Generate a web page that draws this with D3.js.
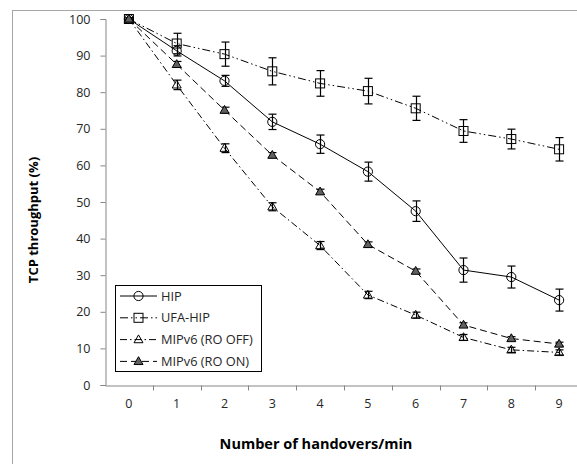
<!DOCTYPE html>
<html>
<head>
<meta charset="utf-8">
<script src="https://cdn.jsdelivr.net/npm/d3@7"></script>
<style>
  html, body { margin: 0; padding: 0; background: #fff; }
  svg { display: block; font-family: "Open Sans", "DejaVu Sans", sans-serif; }
</style>
</head>
<body>
<svg id="chart" width="577" height="464"></svg>
<script>
// Handovers per minute (categories on the x axis)
const handovers = ["0", "1", "2", "3", "4", "5", "6", "7", "8", "9"];
const yTicks = [0, 10, 20, 30, 40, 50, 60, 70, 80, 90, 100];

// TCP throughput (%) and error bar half-widths per protocol
const hipValues    = [100, 91.3, 83.1, 71.9, 65.8, 58.3, 47.5, 31.4, 29.5, 23.2];
const hipErrors    = [0.3, 1.4, 1.5, 2.1, 2.5, 2.6, 2.8, 3.3, 3.0, 3.0];
const ufaValues    = [100, 93.3, 90.4, 85.7, 82.4, 80.3, 75.6, 69.4, 67.2, 64.4];
const ufaErrors    = [0.3, 2.8, 3.3, 3.7, 3.5, 3.5, 3.3, 3.1, 2.7, 3.2];
const roOffValues  = [100, 82.0, 64.7, 48.7, 38.1, 24.6, 19.1, 13.0, 9.6, 8.9];
const roOffErrors  = [0.3, 1.3, 1.2, 1.1, 1.1, 1.0, 0.8, 0.8, 0.7, 0.7];
const roOnValues   = [100, 87.6, 75.1, 62.8, 52.8, 38.4, 31.1, 16.4, 12.7, 11.2];
const roOnErrors   = [0.3, 0.8, 0.8, 0.7, 0.7, 0.7, 0.6, 0.6, 0.5, 0.5];

const seriesNames = ["HIP", "UFA-HIP", "MIPv6 (RO OFF)", "MIPv6 (RO ON)"];

const series = [
  { name: seriesNames[0], values: hipValues,   errors: hipErrors,   marker: "circle",   dash: null,                 fill: "none" },
  { name: seriesNames[1], values: ufaValues,   errors: ufaErrors,   marker: "square",   dash: "8,3,1.5,3,1.5,3",    fill: "none" },
  { name: seriesNames[2], values: roOffValues, errors: roOffErrors, marker: "triangle", dash: "7,3,1.5,3",          fill: "none" },
  { name: seriesNames[3], values: roOnValues,  errors: roOnErrors,  marker: "triangle", dash: "7,4",                fill: "#606060" }
];

const svg = d3.select("#chart");

// outer chart frame
svg.append("rect")
  .attr("x", 12.5).attr("y", 10.5)
  .attr("width", 620).attr("height", 470)
  .attr("fill", "#fff")
  .attr("stroke", "#a6a6a6")
  .attr("stroke-width", 1);

const plot = { left: 105, right: 583, top: 19, bottom: 385 };

const x = d3.scaleBand()
  .domain(handovers)
  .range([plot.left, plot.right])
  .paddingInner(0).paddingOuter(0);
const cx = d => x(d) + x.bandwidth() / 2;

const y = d3.scaleLinear()
  .domain([0, 100])
  .range([plot.bottom, plot.top]);

const axisColor = "#868686";
const labelColor = "#262626";

// y axis
const yAxis = svg.append("g")
  .attr("transform", `translate(${plot.left + 0.5},0)`)
  .call(d3.axisLeft(y).tickValues(yTicks).tickSize(5).tickPadding(10).tickFormat(d3.format("d")));
yAxis.select(".domain").attr("stroke", axisColor);
yAxis.selectAll(".tick line").attr("stroke", axisColor);
yAxis.selectAll(".tick text")
  .attr("fill", labelColor)
  .style("font-size", "12.5px")
  .style("font-family", "\"Open Sans\", sans-serif");

// x axis: labels centred in categories, tick marks between categories
const xAxis = svg.append("g")
  .attr("transform", `translate(0,${plot.bottom + 0.5})`)
  .call(d3.axisBottom(x).tickSize(0).tickPadding(14));
xAxis.select(".domain").attr("stroke", axisColor);
xAxis.selectAll(".tick text")
  .attr("fill", labelColor)
  .style("font-size", "12.5px")
  .style("font-family", "\"Open Sans\", sans-serif");
xAxis.selectAll("line.between")
  .data(handovers.slice(1).concat(["end"]))
  .join("line")
  .attr("class", "between")
  .attr("x1", (d, i) => Math.round(plot.left + (i + 1) * x.bandwidth()) + 0.5)
  .attr("x2", (d, i) => Math.round(plot.left + (i + 1) * x.bandwidth()) + 0.5)
  .attr("y1", 0).attr("y2", 5)
  .attr("stroke", axisColor);

// axis titles
svg.append("text")
  .attr("transform", `translate(38,${(plot.top + plot.bottom) / 2 + 18}) rotate(-90)`)
  .attr("text-anchor", "middle")
  .attr("font-weight", "bold")
  .attr("font-size", "13px")
  .attr("fill", "#000")
  .text("TCP throughput (%)");

svg.append("text")
  .attr("x", 316).attr("y", 449)
  .attr("text-anchor", "middle")
  .attr("font-weight", "bold")
  .attr("font-size", "14.5px")
  .attr("fill", "#000")
  .text("Number of handovers/min");

// marker drawing helper
function drawMarker(g, type, px, py, fill) {
  if (type === "circle") {
    g.append("circle").attr("cx", px).attr("cy", py).attr("r", 4.6)
      .attr("fill", fill).attr("stroke", "#000").attr("stroke-width", 1);
  } else if (type === "square") {
    g.append("rect").attr("x", px - 4.5).attr("y", py - 4.5).attr("width", 9).attr("height", 9)
      .attr("fill", fill).attr("stroke", "#000").attr("stroke-width", 1);
  } else {
    const s = 9;
    const h = s * 0.87;
    g.append("path")
      .attr("d", `M${px},${py - h * 0.6}L${px + s / 2},${py + h * 0.4}L${px - s / 2},${py + h * 0.4}Z`)
      .attr("fill", fill).attr("stroke", "#000").attr("stroke-width", 1);
  }
}

const line = d3.line()
  .x((d, i) => cx(handovers[i]))
  .y(d => y(d));

series.forEach(s => {
  const g = svg.append("g");
  g.append("path")
    .datum(s.values)
    .attr("d", line)
    .attr("fill", "none")
    .attr("stroke", "#000")
    .attr("stroke-width", 1)
    .attr("stroke-dasharray", s.dash);

  s.values.forEach((v, i) => {
    const px = Math.round(cx(handovers[i])) + 0.5;
    const top = y(v + s.errors[i]);
    const bot = y(v - s.errors[i]);
    g.append("line").attr("x1", px).attr("x2", px).attr("y1", top).attr("y2", bot)
      .attr("stroke", "#000").attr("stroke-width", 1.2);
    [top, bot].forEach(yy => {
      g.append("line").attr("x1", px - 4).attr("x2", px + 4).attr("y1", yy).attr("y2", yy)
        .attr("stroke", "#000").attr("stroke-width", 1.2);
    });
  });

  s.values.forEach((v, i) => {
    drawMarker(g, s.marker, cx(handovers[i]), y(v), s.fill);
  });
});

// legend
const legend = svg.append("g");
legend.append("rect")
  .attr("x", 115.5).attr("y", 285.5)
  .attr("width", 146).attr("height", 86)
  .attr("fill", "#fff")
  .attr("stroke", "#000")
  .attr("stroke-width", 1);

series.forEach((s, i) => {
  const ly = 296 + i * 21.8;
  legend.append("line")
    .attr("x1", 120).attr("x2", 157)
    .attr("y1", ly).attr("y2", ly)
    .attr("stroke", "#000").attr("stroke-width", 1)
    .attr("stroke-dasharray", s.dash);
  drawMarker(legend, s.marker, 138.5, ly, s.fill);
  legend.append("text")
    .attr("x", 161).attr("y", ly)
    .attr("dy", "0.36em")
    .attr("font-size", "12.8px")
    .attr("fill", labelColor)
    .text(s.name);
});
</script>
</body>
</html>
